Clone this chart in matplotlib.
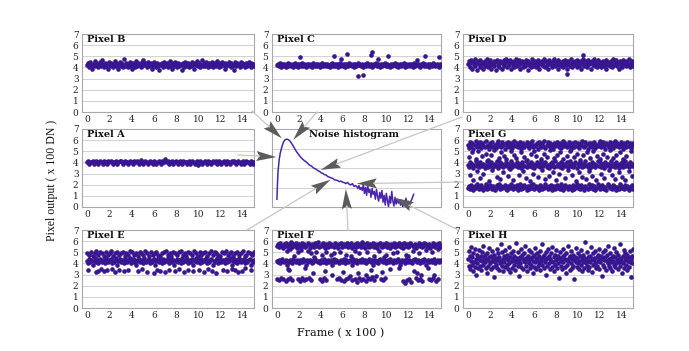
import numpy as np
import matplotlib
matplotlib.use('Agg')
import matplotlib.pyplot as plt
from matplotlib.patches import Polygon

# ---------------- data (pixel output in units of 100 DN; tenths where integer) ----------------
A_vals = [40,41,39,40,40,41,39,40,41,40, 39,40,41,40,39,41,40,40,39,41, 40,41,40,39,40,40,41,39,40,41,
          41,40,39,40,41,40,40,39,41,40, 40,39,41,40,40,41,39,40,42,40, 39,40,41,40,39,40,41,40,40,39,
          41,40,39,40,41,40,39,41,40,40, 43,40,41,39,40,40,41,39,40,41, 40,39,40,41,40,39,41,40,40,39,
          40,41,39,40,41,40,39,40,41,38, 40,41,40,39,40,41,40,39,41,40, 40,39,41,40,40,41,39,40,41,40,
          39,40,41,40,39,41,40,40,39,41, 40,41,40,39,40,41,40,39,40,41, 39,40,41,40,40,39,41,40,39,40]

B_vals = [42,44,40,43,45,41,39,43,42,46, 41,44,42,40,43,45,42,41,47,43, 40,42,44,41,43,39,45,42,44,41,
          43,40,42,46,41,44,43,39,42,45, 44,41,43,40,48,42,44,41,43,40, 42,45,41,43,39,44,42,40,46,43,
          41,44,42,43,40,45,41,47,42,44, 43,40,42,45,41,43,44,39,42,41, 45,42,40,44,43,41,38,43,42,44,
          40,43,45,41,42,44,40,43,41,46, 42,39,44,43,41,45,42,40,43,44, 41,43,42,38,44,40,42,45,43,41,
          44,42,40,43,41,45,42,44,39,43, 42,46,41,44,43,40,42,47,41,44, 43,41,45,42,40,44,43,41,42,45,
          40,43,42,44,41,46,43,40,42,44, 41,45,43,42,39,44,41,43,42,45, 43,40,44,41,42,38,45,43,41,44,
          42,43,40,45,41,44,42,43,40,42, 44,41,43,45,42,40,44,42,43,41]

C_vals = [42,43,41,42,44,40,43,42,41,43, 42,40,43,44,41,42,43,41,42,40, 43,42,44,41,42,43,40,42,43,41,
          42,44,41,43,42,40,43,41,42,43, 41,42,43,40,44,42,41,43,42,41, 43,42,40,43,42,44,41,42,43,41,
          42,43,41,42,40,43,42,44,41,42, 43,41,42,43,40,42,44,41,43,42, 41,43,42,40,43,42,41,44,42,43,
          42,41,43,42,40,43,41,42,44,42, 43,42,41,43,42,40,42,43,41,44, 42,43,41,42,43,40,42,41,43,42,
          44,41,42,43,42,40,43,42,41,43, 42,44,41,42,43,41,42,40,43,42, 41,43,42,44,41,42,43,40,42,43,
          42,41,43,42,44,40,42,43,41,42, 43,42,41,43,42,40,44,42,41,43, 42,43,41,42,40,43,42,44,41,42,
          43,41,42,43,42,40,43,42,41,44, 42,43,41,42,43,41,42,40,43,42]
C_out_frames = [2.1, 5.2, 5.9, 6.4, 7.4, 7.9, 8.6, 8.7, 9.2, 10.2, 12.8, 13.5, 14.8]
C_out_values = [4.9, 5.0, 4.8, 5.2, 3.2, 3.3, 5.1, 5.4, 4.8, 5.0, 4.7, 5.0, 4.9]

D_vals = [43,46,40,44,47,39,45,42,48,41, 44,38,46,43,40,47,42,45,39,44, 46,41,43,48,40,45,42,47,39,44,
          43,46,41,45,38,47,42,44,40,46, 45,39,43,47,41,44,48,40,46,42, 44,47,39,45,42,40,46,43,48,41,
          45,42,47,39,44,46,40,43,45,41, 47,43,38,46,42,44,40,48,45,41, 43,46,40,44,47,42,39,45,43,46,
          41,44,48,40,46,42,45,39,47,43, 44,40,46,42,48,41,45,43,39,47, 42,45,41,44,46,40,43,47,42,45,
          39,46,43,41,48,44,40,45,42,46, 43,47,40,44,41,46,39,45,43,48, 41,44,46,42,40,47,43,45,39,44,
          46,42,48,41,45,40,43,47,42,44, 40,45,43,46,41,44,39,47,42,45, 43,41,46,44,40,48,42,45,43,47,
          41,44,39,46,42,45,40,47,43,44, 46,41,45,42,48,40,44,43,46,41]
D_out_frames = [9.0, 10.5]
D_out_values = [3.4, 5.1]

E_mid = [42,40,44,41,43,39,42,45,41,43, 40,42,44,41,43,42,40,45,42,41, 43,44,40,42,41,43,45,39,42,44,
         41,43,42,40,44,42,41,43,45,40, 42,44,41,43,39,42,44,41,43,42, 40,45,42,41,43,44,40,42,41,43,
         44,39,42,45,41,43,42,40,44,41, 43,42,45,40,42,44,41,43,39,42, 44,41,43,42,40,45,41,43,42,44,
         40,42,43,41,44,39,42,45,41,43, 42,40,44,41,43,42,45,40,42,41, 43,44,39,42,41,43,45,40,42,44,
         41,43,42,40,44,41,43,42,45,39, 42,44,41,43,40,42,45,41,43,42, 44,40,42,41,43,44,39,42,41,43]
E_up = [49,48,50,47,49,51,48,50,49,47, 50,48,49,51,47,49,50,48,49,50, 47,49,48,51,50,48,49,47,50,49,
        48,51,49,47,50,48,49,50,48,47, 49,50,51,48,49,47,50,49,48,50, 51,48,49,47,50,49,48,51,49,47,
        50,48,49,50,47,49,51,48,50,49, 48,47,50,49,51,48,49,50,47,49, 50,48,49,51,47,48,50,49,48,50]
E_low_frames = [0.1,0.8,1.0,1.3,1.5,1.8,2.2,2.5,2.9,3.3, 3.7,4.6,4.9,5.4,6.0,6.3,6.6,7.0,7.4,7.9,
                8.3,8.7,9.1,9.5,10.1,10.5,10.9,11.2,11.6,12.2, 12.6,13.0,13.3,13.6,13.9,14.2,14.7]
E_low_values = [3.4,3.2,3.3,3.5,3.3,3.4,3.5,3.2,3.4,3.3, 3.4,3.3,3.5,3.2,3.1,3.4,3.3,3.2,3.4,3.3,
                3.5,3.2,3.4,3.3,3.4,3.2,3.5,3.3,3.1,3.4, 3.3,3.5,3.4,3.2,3.3,3.6,3.4]

F_up = [56,57,55,58,56,54,57,56,58,55, 57,56,59,55,57,56,58,54,56,57, 55,58,56,57,55,56,58,57,54,56,
        57,55,58,56,57,59,55,56,57,58, 56,54,57,55,58,56,57,56,55,58, 57,56,54,57,58,55,56,57,56,58,
        55,57,56,58,54,56,57,55,58,56, 57,55,59,56,57,54,58,56,55,57, 56,58,55,57,56,54,57,58,56,55,
        57,56,58,55,57,56,54,57,56,58, 55,57,56,58,56,55,57,54,58,56, 57,55,56,58,57,56,55,57,54,56,
        58,56,57,55,56,58,57,55,56,57, 54,56,58,57,55,56,57,58,55,56]
F_mid = [42,41,43,40,42,44,41,42,43,39, 42,41,43,42,40,44,42,41,43,42, 40,43,42,41,44,42,39,43,41,42,
         43,42,40,41,43,44,42,41,42,40, 43,42,41,44,42,40,43,41,42,43, 39,42,44,41,43,42,40,42,43,41,
         42,44,40,43,42,41,43,42,39,44, 41,42,43,40,42,43,41,44,42,41, 43,40,42,42,44,41,43,39,42,43,
         41,42,40,43,44,42,41,43,42,40, 42,43,41,44,42,40,43,42,41,43, 44,42,39,41,43,42,40,44,42,41,
         43,42,41,40,43,44,42,41,43,42, 40,42,43,41,44,39,42,43,41,42, 43,41,42,44,40,42,43,41,42,43]
F_low_frames = [0.0,0.2,0.4,0.6,0.8,1.0,1.2,1.4, 1.9,2.1,2.3,2.5,2.7,2.9,3.1, 3.9,4.1,4.3,4.5,
                5.5,5.7,5.9,6.1,6.3,6.5, 6.9,7.1,7.3,7.5,7.7,7.9,8.1,8.3,8.5,8.7,8.9, 9.5,9.7,9.9,
                11.5,11.7,11.9,12.1,12.3, 12.7,12.9,13.1,13.3, 13.9,14.1,14.3,14.5,14.7]
F_low_values = [2.6,2.5,2.7,2.6,2.4,2.6,2.7,2.5, 2.6,2.4,2.7,2.5,2.6,2.7,2.5, 2.6,2.4,2.7,2.5,
                2.6,2.7,2.5,2.4,2.6,2.7, 2.5,2.6,2.3,2.7,2.5,2.6,2.4,2.7,2.6,2.8,2.5, 2.6,2.5,2.7,
                2.4,2.2,2.5,2.6,2.3, 2.7,2.5,2.6,2.4, 2.6,2.5,2.7,2.4,2.6]
F_sc_frames = [0.9,1.2,1.9,2.2,2.8,3.1,3.6,4.1,4.5,4.9,5.2,5.8,6.3,7.1,7.5,8.2,8.9,9.3,10.0,10.6,
               11.0,11.8,12.4,13.0,13.6,14.2,14.7,1.6,3.4,6.8,9.8,12.0,
               1.0,1.1,2.6,3.3,4.4,5.0,6.0,6.7,7.4,8.1,8.6,9.1,9.6,10.3,11.2,12.5,12.8,13.2,13.8,14.4]
F_sc_values = [5.1,5.3,5.0,5.2,5.1,4.9,5.0,4.8,5.0,4.8,4.9,5.0,4.8,5.1,4.9,5.0,4.7,5.1,4.8,4.9,
               5.0,4.8,5.1,4.9,5.2,5.0,5.3,4.7,4.6,4.7,4.6,4.7,
               3.5,3.4,3.6,3.1,3.3,3.0,3.2,2.9,3.1,3.0,3.4,2.9,3.2,3.5,3.6,3.3,3.1,3.0,3.6,3.0]

G_up = [56,53,58,55,57,52,56,59,54,57, 55,58,53,56,57,54,59,55,56,52, 57,55,58,54,56,53,57,59,55,56,
        54,58,56,52,57,55,58,54,56,57, 53,56,59,55,57,54,56,58,52,55, 57,54,56,58,55,53,57,56,59,54,
        56,55,57,52,58,56,54,57,55,59, 53,56,58,55,57,54,56,52,57,55, 58,56,54,57,53,56,59,55,57,54,
        56,58,55,52,57,56,54,58,55,57, 53,56,57,59,55,54,58,56,52,57, 55,57,54,56,58,53,56,55,57,59,
        54,56,58,55,52,57,56,54,58,55, 57,53,56,59,55,57,54,56,58,55, 52,57,56,54,58,55,57,53,56,57]
G_mid = [38,36,40,37,39,35,38,41,37,39, 36,40,38,37,39,35,38,41,36,39, 37,40,38,36,39,37,41,35,38,40,
         37,39,36,38,40,37,39,35,38,41, 36,39,38,37,40,36,38,39,35,40, 38,37,41,36,39,38,37,40,36,39,
         35,38,40,37,39,36,41,38,37,39, 40,36,38,35,39,37,40,38,36,41, 37,39,38,36,40,35,38,39,37,40,
         36,38,41,37,39,36,38,40,35,39, 37,40,38,36,39,37,41,38,36,39, 35,38,40,37,39,36,38,41,37,40,
         36,39,38,35,40,37,39,38,36,41, 38,37,39,36,40,38,35,39,37,40, 36,38,41,37,39,36,40,38,37,39]
G_low = [17,19,16,20,18,15,19,17,21,18, 16,19,20,17,15,18,21,16,19,17, 20,18,16,19,15,17,20,18,21,16,
         19,17,18,20,16,15,19,18,17,21, 18,16,19,17,20,15,18,21,16,19, 17,20,18,15,19,16,18,20,17,21,
         16,19,17,18,15,20,19,16,18,17, 21,18,16,19,17,20,15,18,19,16, 20,17,18,16,21,19,15,17,20,18,
         16,19,18,17,15,20,16,18,21,17, 19,16,20,18,17,15,19,18,16,21, 17,18,20,16,19,15,17,21,18,16,
         19,20,17,16,18,15,21,19,17,18, 16,20,19,17,15,18,16,21,19,17, 18,16,20,17,19,15,18,17,20,16]
G_sc_frames = [0.1,0.4,0.7,0.9,1.3,1.6,1.8,2.1,2.4,2.8, 3.0,3.3,3.5,3.9,4.2,4.4,4.8,5.1,5.4,5.7,
               6.0,6.2,6.6,6.9,7.2,7.5,7.8,8.1,8.4,8.6, 9.0,9.3,9.6,9.9,10.2,10.5,10.8,11.1,11.4,11.7,
               12.0,12.3,12.6,12.9,13.2,13.5,13.8,14.1,14.4,14.8,
               0.2,0.5,0.8,1.1,1.4,1.9,2.2,2.6,2.9,3.2, 3.6,3.8,4.1,4.6,5.0,5.3,5.6,5.9,6.4,6.7,
               7.0,7.4,7.7,8.0,8.3,8.8,9.1,9.5,9.8,10.1, 10.4,10.7,11.0,11.3,11.6,12.1,12.4,12.8,13.1,13.4,
               13.7,14.0,14.3,14.6,14.9]
G_sc_values = [4.5,4.9,4.3,5.0,4.6,4.8,4.2,4.7,5.1,4.4, 4.9,4.6,4.3,5.0,4.7,4.4,4.9,4.5,4.2,4.8,
               5.0,4.6,4.3,4.8,4.5,5.1,4.4,4.7,4.9,4.3, 4.6,5.0,4.5,4.8,4.2,4.7,4.9,4.4,5.0,4.6,
               4.3,4.8,4.5,5.1,4.4,4.7,4.9,4.3,4.6,5.0,
               2.9,2.4,3.2,2.6,3.0,2.3,3.3,2.7,2.5,3.1, 2.8,3.4,2.4,2.9,3.2,2.6,2.3,3.0,2.7,3.3,
               2.5,2.8,3.1,2.4,3.0,2.6,3.3,2.9,2.3,3.1, 2.7,2.5,3.2,2.8,2.4,3.0,2.6,3.3,2.9,2.5,
               3.1,2.7,2.4,3.2,2.8]

H_vals = [44,38,51,35,47,42,55,39,46,33, 49,41,37,53,44,30,48,40,45,36,
          52,43,38,47,34,50,42,56,39,45, 41,48,36,44,31,49,43,38,54,46,
          40,35,47,42,51,37,44,28,48,41, 45,39,53,36,43,49,34,46,40,57,
          42,38,50,44,33,47,41,52,37,45, 39,48,35,43,55,40,46,32,49,42,
          36,51,44,39,47,34,42,58,41,45, 38,50,43,29,46,40,53,37,48,44,
          35,42,49,41,56,38,45,33,47,43, 40,52,36,44,39,50,46,31,42,48,
          37,54,41,45,35,49,43,38,47,40, 51,34,44,42,57,39,46,36,48,41,
          43,30,50,45,38,53,40,47,35,44, 42,49,37,55,41,46,33,48,39,43,
          52,36,45,40,47,27,44,50,38,42, 46,35,53,41,48,37,44,31,49,43,
          39,56,42,45,34,47,40,51,36,44, 38,48,43,26,46,41,54,37,45,40,
          49,35,42,47,39,52,33,44,48,41, 36,45,59,40,43,38,50,34,46,42,
          37,47,41,55,44,32,49,39,45,43, 40,51,36,46,38,48,42,53,35,44,
          41,47,29,45,39,50,43,37,52,46, 34,42,48,40,56,38,44,36,49,41,
          45,33,47,42,39,54,37,46,40,50, 43,35,48,41,44,38,57,42,45,31,
          47,40,52,36,43,49,39,45,34,48, 42,46,37,51,41,44,28,47,40,53]

noise_bins = [0.0,0.05,0.1,0.15,0.2,0.3,0.45,0.6,0.75,0.9, 1.05,1.2,1.35,1.5,1.65,1.8,1.95,2.1,2.3,2.5,
              2.7,2.85,3.0,3.15,3.3,3.45,3.6,3.75,3.9,4.05, 4.2,4.35,4.5,4.65,4.8,4.95,5.1,5.25,5.4,5.55,
              5.7,5.85,6.0,6.15,6.3,6.45,6.6,6.75,6.9,7.05, 7.2,
              7.3,7.4,7.5,7.6,7.7,7.8,7.9,8.0,8.1,8.2, 8.3,8.4,8.5,8.6,8.7,8.8,8.9,9.0,9.1,9.2,
              9.3,9.4,9.5,9.6,9.7,9.8,9.9,10.0,10.1,10.2, 10.3,10.4,10.5,10.6,10.7,10.8,10.9,11.0,11.1,11.2,
              11.3,11.4,11.5,11.6,11.7,11.8,11.9,12.0,12.1,12.2, 12.3,12.4,12.5]
noise_freq = [0.4,1.2,1.8,2.1,2.4,2.75,3.08,3.33,3.45,3.48, 3.45,3.38,3.25,3.12,2.97,2.83,2.72,2.6,2.48,2.38,
              2.3,2.22,2.14,2.1,2.02,1.97,1.93,1.86,1.83,1.75, 1.72,1.66,1.64,1.56,1.53,1.49,1.47,1.40,1.38,1.36,
              1.30,1.33,1.27,1.25,1.2,1.26,1.17,1.13,1.2,1.05, 1.1,
              1.05,0.95,1.1,0.9,1.0,0.85,1.15,0.7,1.0,0.6, 1.1,0.75,0.9,0.5,0.95,0.65,0.8,0.4,0.9,0.55,
              0.3,0.75,0.45,0.85,0.25,0.6,0.1,0.7,0.35,0.0, 0.55,0.2,0.8,0.3,0.05,0.5,0.15,0.4,0.2,0.3,
              0.1,0.35,0.0,0.3,0.2,0.45,0.1,0.3,0.0,0.25, 0.35,0.5,0.65]

Y_TICKS = [0, 1, 2, 3, 4, 5, 6, 7]
X_TICKS = [0, 2, 4, 6, 8, 10, 12, 14]

# ---------------- styling ----------------
plt.rcParams['font.family'] = ['DejaVu Serif']
DOT = '#38168f'
LINE = '#4a25b0'
W, H = 689, 351
fig = plt.figure(figsize=(W / 100, H / 100), dpi=100)
fig.patch.set_facecolor('white')

COLS = [(82, 254), (272, 441), (463, 633)]
ROWS = [(34, 112), (129, 207), (230, 308)]


def make_axes(c, r):
    l, rr = COLS[c]
    t, b = ROWS[r]
    return fig.add_axes([l / W, 1 - b / H, (rr - l) / W, (b - t) / H])


def style(ax, ymax=7, labels=True):
    ax.set_xlim(-0.45, 15.0)
    ax.set_ylim(0, ymax)
    ax.set_yticks([v for v in Y_TICKS if v <= ymax])
    ax.set_xticks(X_TICKS)
    ax.grid(axis='y', color='#d2d2d2', lw=0.7)
    ax.grid(axis='x', visible=False)
    ax.set_axisbelow(True)
    for s in ax.spines.values():
        s.set_color('#a8a8a8')
        s.set_linewidth(0.8)
    ax.tick_params(length=0, pad=2.5, labelsize=6.5, labelcolor='#222222')
    if not labels:
        ax.set_xticklabels([])
        ax.set_yticklabels([])


def frames_for(vals):
    return np.linspace(0, 15, len(vals))


def dots(ax, frames, values, s=11):
    n = min(len(frames), len(values))
    ax.scatter(np.asarray(frames)[:n], np.asarray(values, float)[:n], s=s, color=DOT,
               linewidths=0, zorder=3)


def tenths(v):
    return np.asarray(v, float) / 10.0


def label(ax, txt):
    ax.text(0.03, 0.985, txt, transform=ax.transAxes, ha='left', va='top',
            fontsize=7, fontweight='bold', color='#111111', zorder=5)


axB = make_axes(0, 0); style(axB); label(axB, 'Pixel B')
dots(axB, frames_for(B_vals), tenths(B_vals))

axC = make_axes(1, 0); style(axC); label(axC, 'Pixel C')
dots(axC, frames_for(C_vals), tenths(C_vals))
dots(axC, C_out_frames, C_out_values)

axD = make_axes(2, 0); style(axD); label(axD, 'Pixel D')
dots(axD, frames_for(D_vals), tenths(D_vals))
dots(axD, D_out_frames, D_out_values)

axA = make_axes(0, 1); style(axA); label(axA, 'Pixel A')
dots(axA, frames_for(A_vals), tenths(A_vals))

axh = make_axes(1, 1); style(axh, ymax=4, labels=False)
axh.plot(noise_bins, noise_freq, color=LINE, lw=1.1, zorder=3)
axh.text(0.485, 0.985, 'Noise histogram', transform=axh.transAxes, ha='center', va='top',
         fontsize=7, fontweight='bold', color='#111111')

axG = make_axes(2, 1); style(axG); label(axG, 'Pixel G')
dots(axG, frames_for(G_up), tenths(G_up))
dots(axG, frames_for(G_mid), tenths(G_mid))
dots(axG, frames_for(G_low), tenths(G_low))
dots(axG, G_sc_frames, G_sc_values)

axE = make_axes(0, 2); style(axE); label(axE, 'Pixel E')
dots(axE, frames_for(E_mid), tenths(E_mid))
dots(axE, frames_for(E_up), tenths(E_up))
dots(axE, E_low_frames, E_low_values)

axF = make_axes(1, 2); style(axF); label(axF, 'Pixel F')
dots(axF, frames_for(F_up), tenths(F_up))
dots(axF, frames_for(F_mid), tenths(F_mid))
dots(axF, F_low_frames, F_low_values)
dots(axF, F_sc_frames, F_sc_values)

axH = make_axes(2, 2); style(axH); label(axH, 'Pixel H')
dots(axH, frames_for(H_vals), tenths(H_vals))

fig.text(341 / W, 1 - 333 / H, 'Frame ( x 100 )', ha='center', va='center', fontsize=8,
         color='#111111')
fig.text(52 / W, 1 - 180 / H, 'Pixel output ( x 100 DN )', ha='center', va='center',
         rotation=90, fontsize=8.5, family=['Liberation Serif', 'DejaVu Serif'], color='#111111')

# ---------------- arrows from the panels to the histogram ----------------
ov = fig.add_axes([0, 0, 1, 1], zorder=20)
ov.set_xlim(0, W)
ov.set_ylim(H, 0)
ov.axis('off')
ov.patch.set_alpha(0)


def to_px(x, y):
    disp = axh.transData.transform((x, y))
    return ov.transData.inverted().transform(disp)


def arrow(tail, tip_data, L=20, wd=10):
    tip = to_px(*tip_data)
    tail = np.asarray(tail, float)
    d = tip - tail
    u = d / np.hypot(*d)
    n = np.array([-u[1], u[0]])
    base = tip - u * L
    ov.plot([tail[0], base[0] + u[0] * 3], [tail[1], base[1] + u[1] * 3], color='#c6c6c6', lw=0.9)
    ov.add_patch(Polygon([tip, base + n * wd / 2, base + u * 3, base - n * wd / 2], closed=True,
                         facecolor='#5c5c5c', edgecolor='none'))


ARROWS = [((238, 155), (-0.05, 2.56)),
          ((252, 111), (0.45, 3.52)),
          ((317, 112), (1.5, 3.45)),
          ((462, 117), (4.0, 1.9)),
          ((463, 182), (7.3, 1.2)),
          ((458, 230), (10.7, 0.48)),
          ((348, 230), (6.3, 0.92)),
          ((247, 230), (4.9, 1.4))]
for tail, tip in ARROWS:
    arrow(tail, tip)

fig.savefig('out.png', dpi=100, facecolor='white')
